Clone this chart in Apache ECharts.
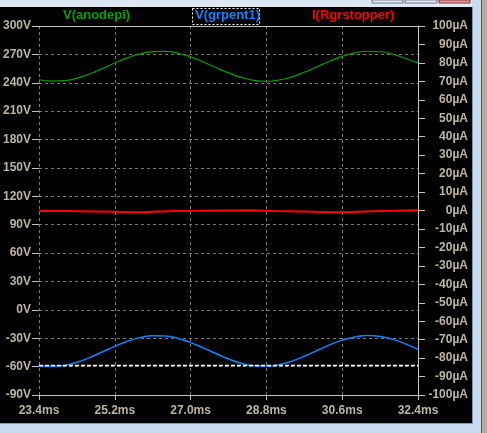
<!DOCTYPE html>
<html>
<head>
<meta charset="utf-8">
<script src="https://cdn.jsdelivr.net/npm/echarts@6/dist/echarts.min.js"></script>
<style>
html,body{margin:0;padding:0;background:#000;}
#chart{width:487px;height:433px;}
</style>
</head>
<body>
<div id="chart"></div>
<script>
// time samples (ms)
const times = [23.4,23.7,24.0,24.3,24.6,24.9,25.2,25.5,25.8,26.1,26.4,26.7,27.0,27.3,27.6,27.9,28.2,28.5,28.8,29.1,29.4,29.7,30.0,30.3,30.6,30.9,31.2,31.5,31.8,32.1,32.4];
// V(anodepi) in V
const anodepi = [243.2,241.7,242.2,244.9,249.3,254.9,260.9,266.3,270.6,273.0,273.2,271.2,267.3,262.0,256.1,250.4,245.7,242.6,241.6,242.9,246.2,251.1,256.9,262.8,267.9,271.6,273.3,272.8,270.1,265.7,261.0];
// V(grpent1) in V
const grpent1 = [-59.5,-59.6,-58.7,-55.4,-50.5,-44.6,-38.6,-33.2,-29.3,-27.3,-27.7,-30.2,-34.6,-40.2,-46.2,-51.9,-56.5,-59.2,-59.7,-58.0,-54.2,-49.0,-43.0,-37.0,-32.0,-28.6,-27.2,-28.1,-31.2,-36.0,-41.8];
// I(Rgrstopper) in µA (held levels)
const stopperTimes = [23.4,23.96,25.78,26.60,28.44,28.98,30.55,31.56,32.4];
const stopperI = [-0.3,-1.0,-0.3,0.1,-0.3,-1.0,-0.3,0.1,0.1];
// dashed white cursor level (V)
const cursorLevel = -58.3;
// axes
const xTicks = {min:23.4, max:32.4, interval:1.8};
const vTicks = {min:-90, max:300, interval:30};
const iTicks = {min:-100, max:100, interval:10};
const traceNames = ['V(anodepi)','V(grpent1)','I(Rgrstopper)'];

const FONT = '"Liberation Sans", Arial, sans-serif';
const LBL = '#bdb4a6';
const AX = '#c4c4c4';
const GRID = '#7a7a7a';

const chart = echarts.init(document.getElementById('chart'));
chart.setOption({
  backgroundColor:'#000',
  animation:false,
  grid:{left:36, right:69, top:26, bottom:38, show:false},
  xAxis:[{
    type:'value', min:xTicks.min, max:xTicks.max, interval:xTicks.interval,
    axisLine:{show:true, onZero:false, lineStyle:{color:AX, width:1}},
    axisTick:{show:true, inside:false, length:5, lineStyle:{color:AX}},
    axisLabel:{color:LBL, fontFamily:FONT, fontWeight:'bold', fontSize:12, margin:10,
      formatter:v=>v.toFixed(1)+'ms'},
    splitLine:{show:true, lineStyle:{color:GRID, type:[3,3], width:1}}
  },{
    type:'value', position:'top', min:xTicks.min, max:xTicks.max, interval:xTicks.interval,
    axisLine:{show:true, onZero:false, lineStyle:{color:AX, width:1}},
    axisTick:{show:false}, axisLabel:{show:false}, splitLine:{show:false}
  }],
  yAxis:[{
    type:'value', position:'left', min:vTicks.min, max:vTicks.max, interval:vTicks.interval,
    axisLine:{show:false},
    axisTick:{show:true, inside:false, length:7, lineStyle:{color:AX}},
    axisLabel:{color:LBL, fontFamily:FONT, fontWeight:'bold', fontSize:12, margin:8,
      formatter:v=>v+'V'},
    splitLine:{show:true, lineStyle:{color:GRID, type:[3,3], width:1}}
  },{
    type:'value', position:'right', min:iTicks.min, max:iTicks.max, interval:iTicks.interval,
    axisLine:{show:true, onZero:false, lineStyle:{color:AX, width:1}},
    axisTick:{show:true, inside:false, length:7, lineStyle:{color:AX}},
    axisLabel:{color:LBL, fontFamily:FONT, fontWeight:'bold', fontSize:12, margin:50, align:'right',
      formatter:v=>v+'µA'},
    splitLine:{show:false}
  }],
  series:[{
    name:traceNames[0], type:'line', yAxisIndex:0, symbol:'none', smooth:true,
    lineStyle:{color:'#00a000', width:1.2},
    data:times.map((t,i)=>[t,anodepi[i]])
  },{
    name:traceNames[1], type:'line', yAxisIndex:0, symbol:'none', smooth:true,
    lineStyle:{color:'#0a84ff', width:1.5},
    data:times.map((t,i)=>[t,grpent1[i]]),
    markLine:{silent:true, symbol:'none', label:{show:false},
      lineStyle:{color:'#ffffff', type:[4,2], width:1.3},
      data:[{yAxis:cursorLevel}]}
  },{
    name:traceNames[2], type:'line', yAxisIndex:1, symbol:'none', step:'end',
    lineStyle:{color:'#ff0000', width:2},
    data:stopperTimes.map((t,i)=>[t,stopperI[i]])
  }],
  graphic:[
    {type:'text', left:63, top:9, style:{text:traceNames[0], fill:'#00a000', font:'bold 13px '+FONT}},
    {type:'rect', shape:{x:192.5, y:8.5, width:67, height:16}, style:{fill:'none', stroke:'#ffffff', lineWidth:1, lineDash:[2,2]}},
    {type:'text', left:195, top:9, style:{text:traceNames[1], fill:'#0a84ff', font:'bold 13px '+FONT}},
    {type:'text', left:312, top:9, style:{text:traceNames[2], fill:'#ff0000', font:'bold 13px '+FONT}},
    // window chrome
    {type:'rect', shape:{x:0, y:0, width:487, height:7}, style:{fill:'#dde7f3'}},
    {type:'rect', shape:{x:372, y:0, width:31, height:3}, style:{fill:'#e8eef6', stroke:'#707880', lineWidth:1}},
    {type:'rect', shape:{x:405, y:0, width:32, height:3}, style:{fill:'#e8eef6', stroke:'#707880', lineWidth:1}},
    {type:'rect', shape:{x:439, y:0, width:31, height:3}, style:{fill:'#d8a0a0', stroke:'#8a3030', lineWidth:1}},
    {type:'rect', shape:{x:472, y:0, width:15, height:433}, style:{fill:'#c9dbef'}},
    {type:'rect', shape:{x:0, y:423, width:487, height:10}, style:{fill:'#c9dbef'}},
    {type:'rect', shape:{x:0, y:423, width:473, height:1}, style:{fill:'#7a98b8'}},
    {type:'rect', shape:{x:472, y:7, width:1, height:417}, style:{fill:'#7a98b8'}},
    {type:'rect', shape:{x:481, y:0, width:1, height:433}, style:{fill:'#505860'}},
    {type:'rect', shape:{x:482, y:0, width:5, height:433}, style:{fill:'#b5ab98'}}
  ]
});
</script>
</body>
</html>
